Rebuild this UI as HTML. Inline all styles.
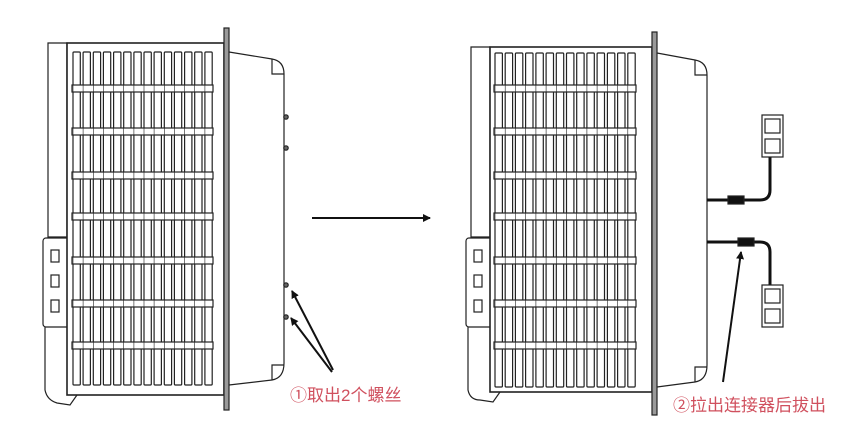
<!DOCTYPE html><html><head><meta charset="utf-8"><style>body{margin:0;background:#fff}svg{display:block}</style></head><body>
<svg id="s" width="844" height="437" viewBox="0 0 844 437" xmlns="http://www.w3.org/2000/svg" fill="none" stroke="#222" stroke-width="1.2">
<defs><marker id="a" markerWidth="8" markerHeight="8" refX="7" refY="4" orient="auto" markerUnits="userSpaceOnUse"><path d="M0,0L8,4L0,8z" fill="#111" stroke="none"/></marker></defs>
<g id="L"></g>
<line x1="312" y1="218" x2="430" y2="218" stroke="#111" stroke-width="2" marker-end="url(#a)"/>
<line x1="333" y1="370" x2="292" y2="291" stroke="#111" stroke-width="2" marker-end="url(#a)"/>
<line x1="332" y1="372" x2="291" y2="318" stroke="#111" stroke-width="2" marker-end="url(#a)"/>
<text x="290" y="401" fill="#d0505e" stroke="none" font-size="17" font-family="Liberation Sans,'Noto Sans CJK SC',sans-serif">①取出2个螺丝</text>
<line x1="723" y1="382" x2="741" y2="252" stroke="#111" stroke-width="2" marker-end="url(#a)"/>
<text x="673" y="411" fill="#d0505e" stroke="none" font-size="17" font-family="Liberation Sans,'Noto Sans CJK SC',sans-serif">②拉出连接器后拔出</text>
<path d="M707,200 H760 Q770,200 770,190 V157" stroke="#111" stroke-width="3"/>
<path d="M707,242 H760 Q770,242 770,252 V285" stroke="#111" stroke-width="3"/>
<rect x="728" y="196" width="16" height="8" fill="#111"/><rect x="738" y="238" width="16" height="8" fill="#111"/>
<rect x="762" y="115" width="21" height="42" fill="#fff"/><rect x="765" y="119" width="15" height="14"/><rect x="765" y="139" width="15" height="14"/>
<rect x="762" y="285" width="21" height="42" fill="#fff"/><rect x="765" y="289" width="15" height="14"/><rect x="765" y="309" width="15" height="14"/>
</svg>
<script>
function dev(grL,grR,top,bot,flT,flB,hR,sT,sB,slL,slR,scr){
 let s='';
 s+=`<path d="M${grL-19},${top} H${grL} V237 H${grL-19}Z"/>`;
 s+=`<rect x="${grL-24}" y="238" width="32" height="89" rx="3"/>`;
 s+=`<path d="M${grL-22},327 V390 Q${grL-20},400 ${grL-10},${bot+8} L${grL+3},${bot+10} L${grL+10},${bot}"/>`;
 for(let k=0;k<3;k++){s+=`<rect x="${grL-16}" y="${250+k*25}" width="8" height="12"/>`;}
 s+=`<rect x="${grL}" y="${top}" width="${grR-grL}" height="${bot-top}" fill="#fff" stroke-width="1.6"/>`;
 const n=14,p=(slR-slL)/n,bars=[85,128,172,213,257,300,342];
 for(let i=0;i<n;i++){let x=slL+i*p;s+=`<rect x="${x.toFixed(1)}" y="${sT}" width="${(p-2.8).toFixed(1)}" height="${sB-sT}" rx="1"/>`;}
 bars.forEach(b=>{s+=`<rect x="${slL-1}" y="${b}" width="${slR-slL-1}" height="7" fill="#fff"/>`;
  for(let i=0;i<n;i++){let x=slL+i*p;s+=`<line x1="${x.toFixed(1)}" y1="${b}" x2="${x.toFixed(1)}" y2="${b+7}" stroke-width="0.6"/>`;}});
 s+=`<rect x="${grR}" y="${flT}" width="5" height="${flB-flT}" fill="#9a9a9a"/>`;
 s+=`<path d="M${grR+5},${sT} L${hR-12},${sT+7} Q${hR},${sT+9} ${hR},${sT+22} V${sB-22} Q${hR},${sB-7} ${hR-12},${sB-5} L${grR+5},${sB}"/>`;
 s+=`<path d="M${hR-12},${sT+7} V${sT+22} H${hR}"/><path d="M${hR-12},${sB-5} V${sB-20} H${hR}"/>`;
 scr.forEach(y=>{s+=`<circle cx="${hR+2}" cy="${y}" r="2.2" fill="#666"/>`});
 return s;
}
document.getElementById('L').innerHTML=
 dev(67,224,43,395,28,410,284,52,385,73,215,[117,148,285,317])+
 dev(490,652,47,392,32,415,707,53,387,495,638,[]);
</script>
</body></html>
